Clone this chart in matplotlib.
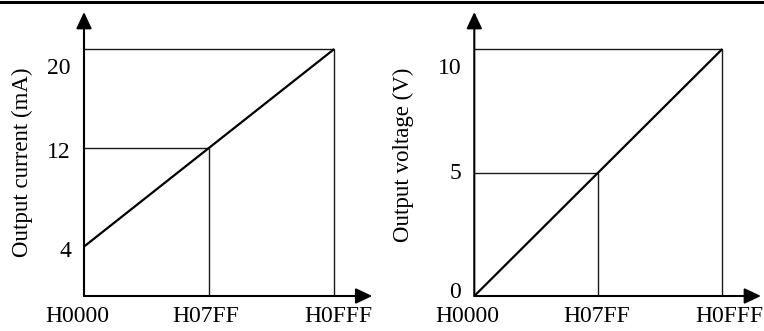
import matplotlib
matplotlib.use("Agg")
import matplotlib.pyplot as plt
from matplotlib.lines import Line2D

plt.rcParams['font.family'] = ['Liberation Serif', 'DejaVu Serif']

# ---- data ----
x_codes = [0x0000, 0x07FF, 0x0FFF]
x_labels = ["H0000", "H07FF", "H0FFF"]

cur_values = [4, 12, 20]          # mA at H0000, H07FF, H0FFF
cur_ticks = [4, 12, 20]
cur_tick_labels = ["4", "12", "20"]

volt_values = [0, 5, 10]          # V at H0000, H07FF, H0FFF
volt_ticks = [0, 5, 10]
volt_tick_labels = ["0", "5", "10"]

W, H = 764, 331
fig = plt.figure(figsize=(W / 100, H / 100), dpi=100)

# top rule
fig.add_artist(Line2D([0, 1], [1 - 1.5 / H] * 2, transform=fig.transFigure,
                      color='black', lw=2.2))

def make_panel(px_left, px_right, px_end_x, px_top_val, yval_top, ylabel,
               values, ticks, tick_labels, tick_dy, xlab_dx, ylabel_pos):
    px_bottom, px_top = 296, 12
    ax = fig.add_axes([px_left / W, (H - px_bottom) / H,
                       (px_right - px_left) / W, (px_bottom - px_top) / H])
    # scales: H0FFF lands at px_end_x, top value lands at px_top_val
    xmax = x_codes[-1] * (px_right - px_left) / (px_end_x - px_left)
    ymax = yval_top * (px_bottom - px_top) / (px_bottom - px_top_val)
    ax.set_xlim(0, xmax)
    ax.set_ylim(0, ymax)
    ax.axis('off')

    gl = dict(color='#1a1a1a', lw=1.0, solid_capstyle='butt')
    # guide lines
    ax.plot([0, x_codes[2]], [values[2], values[2]], **gl)
    ax.plot([x_codes[2], x_codes[2]], [0, values[2]], **gl)
    ax.plot([0, x_codes[1]], [values[1], values[1]], **gl)
    ax.plot([x_codes[1], x_codes[1]], [0, values[1]], **gl)
    # characteristic line
    ax.plot(x_codes, values, color='black', lw=1.6, solid_capstyle='butt')

    # axes with arrows
    ap = dict(arrowstyle='-|>,head_length=1.0,head_width=0.47', color='black',
              lw=1.5, mutation_scale=10, shrinkA=0, shrinkB=0)
    ax.annotate('', xy=(1, 0), xytext=(0, 0), xycoords='axes fraction',
                textcoords='axes fraction', arrowprops=ap)
    ax.annotate('', xy=(0, 1), xytext=(0, 0), xycoords='axes fraction',
                textcoords='axes fraction', arrowprops=ap)

    # y tick labels
    for v, lab, dy in zip(ticks, tick_labels, tick_dy):
        ax.annotate(lab, xy=(0, v), xytext=(-13, dy), textcoords='offset pixels',
                    ha='right', va='center', fontsize=17)
    # x tick labels
    for xc, lab, dx in zip(x_codes, x_labels, xlab_dx):
        ax.annotate(lab, xy=(xc, 0), xytext=(dx, -21), textcoords='offset pixels',
                    ha='center', va='center', fontsize=17)

    fig.text(ylabel_pos[0] / W, 1 - ylabel_pos[1] / H, ylabel, rotation=90,
             ha='center', va='center', fontsize=16.5)
    return ax

make_panel(84, 372.3, 334.3, 49, 20, "Output current (mA)",
           cur_values, cur_ticks, cur_tick_labels, [-5, -5, -19], [-7, -3, 4],
           (22, 162.5))
make_panel(474.3, 761, 722.3, 49, 10, "Output voltage (V)",
           volt_values, volt_ticks, volt_tick_labels, [3, -1, -19], [-7, -2, 7],
           (403, 155))

fig.savefig("out.png", dpi=100)
